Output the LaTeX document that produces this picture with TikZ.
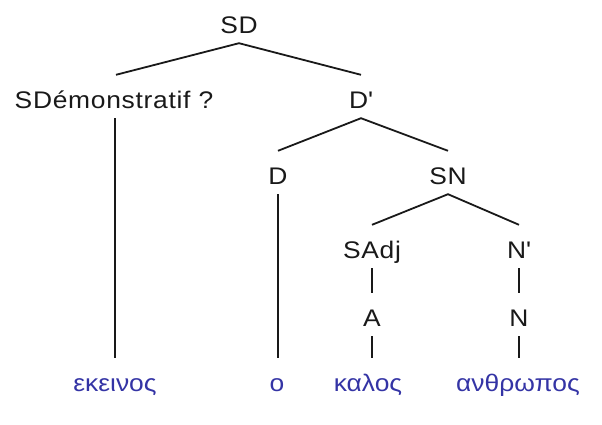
\documentclass[tikz,border=0pt]{standalone}
\usepackage{fontspec}
\setmainfont{Liberation Sans}[FakeStretch=1.1]
\newfontfamily\labfont{Liberation Sans}[FakeStretch=1.1, LetterSpace=3]
\definecolor{leafblue}{RGB}{52,52,165}
\definecolor{ink}{RGB}{25,25,25}
\begin{document}
\begin{tikzpicture}[x=1pt,y=-1pt,
  lab/.style={inner sep=0pt, text height=33pt, text depth=10pt, anchor=base, text=ink,
    font=\labfont\fontsize{24}{28}\selectfont},
  leaf/.style={inner sep=0pt, text height=33pt, text depth=10pt, anchor=base, text=leafblue,
    font=\fontsize{24}{28}\selectfont},
  edge/.style={draw=ink, line width=1.8pt}]
\useasboundingbox (0,0) rectangle (602,424);
\node[lab] (SD) at (239,33) {SD};
\node[lab] (Dem) at (114,108) {SDémonstratif ?};
\node[lab] (Dp) at (361,108) {D\textquotesingle};
\node[lab] (D) at (278,184) {D};
\node[lab] (SN) at (448,184) {SN};
\node[lab] (SAdj) at (372,258) {SAdj};
\node[lab] (Np) at (519,258) {N\textquotesingle};
\node[lab] (A) at (372,326) {A};
\node[lab] (N) at (519,326) {N};
\node[leaf] (w1) at (115,391) {εκεινος};
\node[leaf] (w2) at (277,391) {ο};
\node[leaf] (w3) at (368,391) {καλος};
\node[leaf] (w4) at (518,391) {ανθρωπος};
\draw[edge] ([xshift=2pt]Dem.north) -- (SD.south) -- (Dp.north);
\draw[edge] (D.north) -- (Dp.south) -- (SN.north);
\draw[edge] (SAdj.north) -- (SN.south) -- (Np.north);
\draw[edge] (Dem.south -| w1.north) -- (w1.north);
\draw[edge] (D.south) -- (D.south |- w2.north);
\draw[edge] (SAdj.south) -- (A.north);
\draw[edge] (A.south) -- (A.south |- w3.north);
\draw[edge] (Np.south) -- (N.north);
\draw[edge] (N.south) -- (N.south |- w4.north);
\end{tikzpicture}
\end{document}
